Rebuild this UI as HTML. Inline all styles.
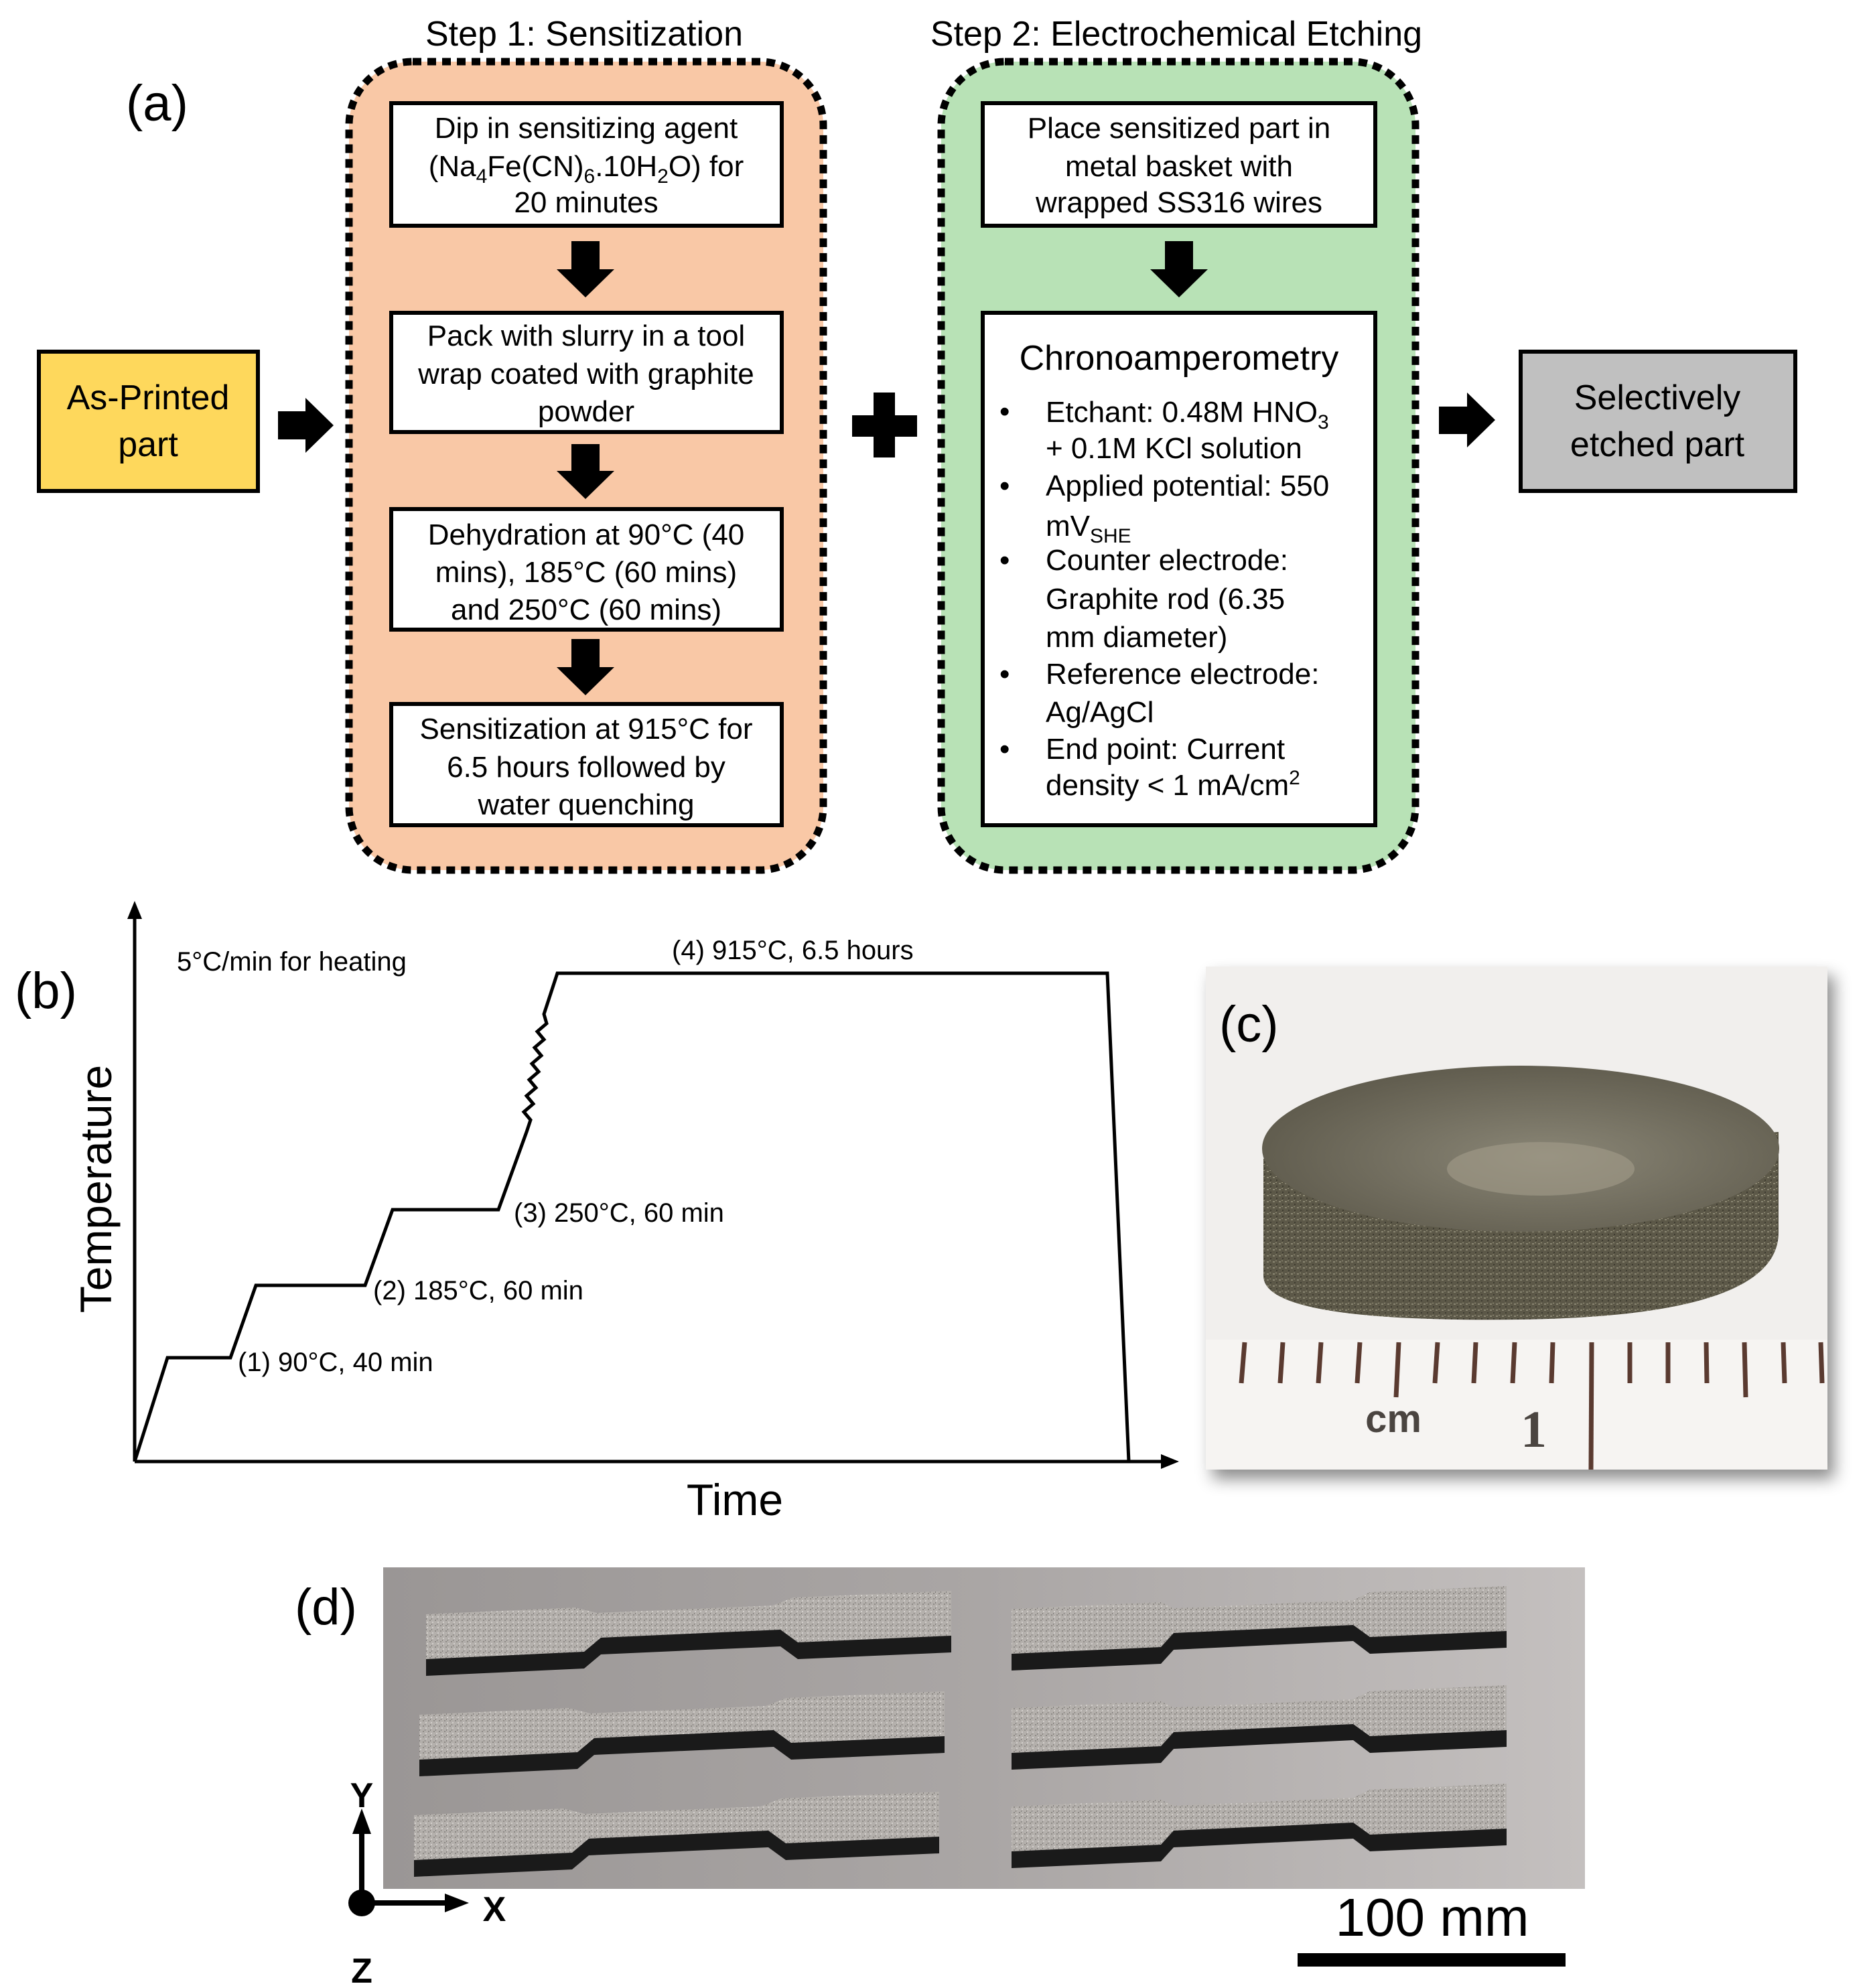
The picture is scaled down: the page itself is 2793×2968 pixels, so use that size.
<!DOCTYPE html>
<html><head><meta charset="utf-8"><style>
html,body{margin:0;padding:0;background:#fff;}
svg{display:block;}
text{font-family:"Liberation Sans",sans-serif;fill:#000;}
</style></head><body>
<svg width="2793" height="2968" viewBox="0 0 2793 2968" xmlns="http://www.w3.org/2000/svg">
<defs>
<filter id="sh" x="-10%" y="-10%" width="130%" height="130%"><feDropShadow dx="10" dy="14" stdDeviation="12" flood-color="#000" flood-opacity="0.45"/></filter>
<pattern id="spk" width="8" height="8" patternUnits="userSpaceOnUse"><rect width="8" height="8" fill="#b4b0ac"/><rect x="1" y="2" width="2" height="2" fill="#8e8a86"/><rect x="5" y="5" width="2" height="2" fill="#d2cecb"/><rect x="4" y="0" width="1" height="2" fill="#7c7875"/></pattern>
<pattern id="spk2" width="9" height="9" patternUnits="userSpaceOnUse"><rect width="9" height="9" fill="#5c5848"/><rect x="1" y="2" width="3" height="2" fill="#8a8672"/><rect x="6" y="6" width="2" height="2" fill="#3e3b30"/><rect x="5" y="1" width="2" height="1" fill="#9c977f"/></pattern>
<linearGradient id="dbg" x1="0" y1="0" x2="1" y2="0"><stop offset="0" stop-color="#9a9695"/><stop offset="0.5" stop-color="#aaa6a5"/><stop offset="1" stop-color="#c4c0bf"/></linearGradient>
<radialGradient id="disc" cx="0.55" cy="0.55" r="0.6"><stop offset="0" stop-color="#8a8676"/><stop offset="1" stop-color="#5e5a4c"/></radialGradient>
</defs>

<text x="188" y="180" font-size="76">(a)</text>
<text x="872" y="68" font-size="52" text-anchor="middle">Step 1: Sensitization</text>
<text x="1756" y="68" font-size="52" text-anchor="middle">Step 2: Electrochemical Etching</text>

<rect x="521" y="92" width="708" height="1207" rx="95" fill="#f9c8a6" stroke="#000" stroke-width="11" stroke-dasharray="13 9"/>
<rect x="1405" y="92" width="708" height="1207" rx="95" fill="#b8e2b6" stroke="#000" stroke-width="11" stroke-dasharray="13 9"/>

<g fill="#fff" stroke="#000" stroke-width="6">
<rect x="584" y="154" width="583" height="183"/>
<rect x="584" y="467" width="583" height="178"/>
<rect x="584" y="760" width="583" height="180"/>
<rect x="584" y="1051" width="583" height="181"/>
<rect x="1467" y="154" width="586" height="183"/>
<rect x="1467" y="467" width="586" height="765"/>
</g>
<g font-size="44" text-anchor="middle">
<text x="875" y="206">Dip in sensitizing agent</text>
<text x="875" y="263">(Na<tspan font-size="30" dy="10">4</tspan><tspan dy="-10">Fe(CN)</tspan><tspan font-size="30" dy="10">6</tspan><tspan dy="-10">.10H</tspan><tspan font-size="30" dy="10">2</tspan><tspan dy="-10">O) for</tspan></text>
<text x="875" y="317">20 minutes</text>
<text x="875" y="516">Pack with slurry in a tool</text>
<text x="875" y="573">wrap coated with graphite</text>
<text x="875" y="629">powder</text>
<text x="875" y="813">Dehydration at 90°C (40</text>
<text x="875" y="869">mins), 185°C (60 mins)</text>
<text x="875" y="925">and 250°C (60 mins)</text>
<text x="875" y="1103">Sensitization at 915°C for</text>
<text x="875" y="1160">6.5 hours followed by</text>
<text x="875" y="1216">water quenching</text>
<text x="1760" y="206">Place sensitized part in</text>
<text x="1760" y="263">metal basket with</text>
<text x="1760" y="317">wrapped SS316 wires</text>
</g>
<text x="1760" y="552" font-size="52" text-anchor="middle">Chronoamperometry</text>
<g font-size="44">
<text x="1492" y="629">•</text>
<text x="1561" y="630">Etchant: 0.48M HNO<tspan font-size="30" dy="10">3</tspan></text>
<text x="1561" y="684">+ 0.1M KCl solution</text>
<text x="1492" y="740">•</text>
<text x="1561" y="740">Applied potential: 550</text>
<text x="1561" y="800">mV<tspan font-size="30" dy="10">SHE</tspan></text>
<text x="1492" y="851">•</text>
<text x="1561" y="851">Counter electrode:</text>
<text x="1561" y="909">Graphite rod (6.35</text>
<text x="1561" y="966">mm diameter)</text>
<text x="1492" y="1021">•</text>
<text x="1561" y="1021">Reference electrode:</text>
<text x="1561" y="1078">Ag/AgCl</text>
<text x="1492" y="1133">•</text>
<text x="1561" y="1133">End point: Current</text>
<text x="1561" y="1187">density &lt; 1 mA/cm<tspan font-size="30" dy="-16">2</tspan></text>
</g>

<g fill="#000">
<polygon points="853,360 895,360 895,402 917,402 874,444 831,402 853,402"/>
<polygon points="853,663 895,663 895,703 917,703 874,745 831,703 853,703"/>
<polygon points="853,954 895,954 895,996 917,996 874,1038 831,996 853,996"/>
<polygon points="1739,360 1781,360 1781,402 1803,402 1760,444 1717,402 1739,402"/>
<polygon points="415,614 456,614 456,594 498,635 456,676 456,656 415,656"/>
<polygon points="2148,607 2190,607 2190,586 2232,627 2190,668 2190,648 2148,648"/>
<rect x="1272" y="620" width="97" height="32"/>
<rect x="1304" y="586" width="32" height="97"/>
</g>

<rect x="58" y="525" width="327" height="208" fill="#fed85c" stroke="#000" stroke-width="6"/>
<text x="221" y="611" font-size="52" text-anchor="middle">As-Printed</text>
<text x="221" y="681" font-size="52" text-anchor="middle">part</text>
<rect x="2270" y="525" width="410" height="208" fill="#c0c0c0" stroke="#000" stroke-width="6"/>
<text x="2474" y="611" font-size="52" text-anchor="middle">Selectively</text>
<text x="2474" y="681" font-size="52" text-anchor="middle">etched part</text>

<text x="22" y="1505" font-size="76">(b)</text>
<g stroke="#000" stroke-width="5" fill="none">
<line x1="201" y1="2182" x2="201" y2="1360"/>
<line x1="201" y1="2182" x2="1745" y2="2182"/>
<polyline points="201,2182 250,2027 344,2027 382,1919 545,1919 586,1806 744,1806 786,1690 792,1672 782,1660 796,1648 786,1636 800,1624 790,1612 804,1600 794,1588 808,1576 798,1564 812,1552 802,1540 816,1528 812,1514 832,1453 1653,1453 1685,2182"/>
</g>
<polygon points="201,1345 190,1372 212,1372" fill="#000"/>
<polygon points="1760,2182 1733,2171 1733,2193" fill="#000"/>
<g font-size="40">
<text x="264" y="1449">5°C/min for heating</text>
<text x="1003" y="1432">(4) 915°C, 6.5 hours</text>
<text x="767" y="1824">(3) 250°C, 60 min</text>
<text x="557" y="1940">(2) 185°C, 60 min</text>
<text x="355" y="2047">(1) 90°C, 40 min</text>
</g>
<text x="1097" y="2262" font-size="66" text-anchor="middle">Time</text>
<text transform="translate(166,1775) rotate(-90)" font-size="66" text-anchor="middle">Temperature</text>

<g filter="url(#sh)"><rect x="1800" y="1443" width="928" height="751" fill="#f1efed"/></g>
<rect x="1800" y="1443" width="928" height="751" fill="#f1efed"/>
<path d="M1886,1730 L1886,1905 Q1886,1975 2270,1970 Q2655,1965 2655,1840 L2655,1690 Z" fill="url(#spk2)"/>
<ellipse cx="2270" cy="1715" rx="386" ry="124" fill="url(#disc)"/>
<ellipse cx="2300" cy="1745" rx="140" ry="40" fill="#a39d8a" opacity="0.6"/>
<rect x="1800" y="2000" width="928" height="194" fill="#f6f4f2"/>
<g stroke="#5a3a30" stroke-width="7">
<line x1="1858" y1="2004" x2="1853" y2="2065"/><line x1="1915" y1="2004" x2="1911" y2="2065"/>
<line x1="1972" y1="2004" x2="1968" y2="2065"/><line x1="2030" y1="2004" x2="2026" y2="2065"/>
<line x1="2088" y1="2004" x2="2084" y2="2086"/><line x1="2146" y1="2004" x2="2142" y2="2065"/>
<line x1="2203" y1="2004" x2="2200" y2="2065"/><line x1="2261" y1="2004" x2="2258" y2="2065"/>
<line x1="2318" y1="2004" x2="2316" y2="2065"/><line x1="2376" y1="2004" x2="2375" y2="2194"/>
<line x1="2433" y1="2004" x2="2433" y2="2065"/><line x1="2490" y1="2004" x2="2490" y2="2065"/>
<line x1="2547" y1="2004" x2="2548" y2="2065"/><line x1="2604" y1="2004" x2="2606" y2="2086"/>
<line x1="2662" y1="2004" x2="2664" y2="2065"/><line x1="2718" y1="2004" x2="2720" y2="2065"/>
</g>
<text x="2080" y="2138" font-size="58" font-weight="bold" text-anchor="middle" style="fill:#4a4440">cm</text>
<text x="2270" y="2160" font-size="78" font-weight="bold" style="fill:#4a4440;font-family:'Liberation Serif',serif">1</text>
<text x="1820" y="1555" font-size="76">(c)</text>

<text x="440" y="2425" font-size="76">(d)</text>
<rect x="572" y="2340" width="1794" height="480" fill="url(#dbg)"/>
<g id="barL">
<polygon points="636,2410 859,2400 891,2408 1153,2397 1184,2385 1420,2375 1420,2442 1191,2452 1165,2433 897,2445 872,2466 636,2477" fill="url(#spk)"/>
<polygon points="636,2477 872,2466 897,2445 1165,2433 1191,2452 1420,2442 1420,2467 1191,2477 1165,2458 897,2470 872,2491 636,2502" fill="#1a1a1a"/>
</g>
<use href="#barL" transform="translate(-10,150)"/>
<use href="#barL" transform="translate(-18,300)"/>
<g id="barR">
<polygon points="1510,2402 1733,2392 1752,2401 2020,2389 2045,2377 2249,2368 2249,2435 2045,2444 2020,2426 1752,2438 1733,2459 1510,2469" fill="url(#spk)"/>
<polygon points="1510,2469 1733,2459 1752,2438 2020,2426 2045,2444 2249,2435 2249,2460 2045,2469 2020,2450 1752,2463 1733,2484 1510,2494" fill="#1a1a1a"/>
</g>
<use href="#barR" transform="translate(0,148)"/>
<use href="#barR" transform="translate(0,295)"/>

<g stroke="#000" stroke-width="8">
<line x1="540" y1="2841" x2="540" y2="2735"/>
<line x1="540" y1="2841" x2="670" y2="2841"/>
</g>
<polygon points="540,2700 526,2738 554,2738" fill="#000"/>
<polygon points="700,2841 664,2827 664,2855" fill="#000"/>
<circle cx="540" cy="2841" r="20" fill="#000"/>
<text x="540" y="2698" font-size="52" font-weight="bold" text-anchor="middle">Y</text>
<text x="738" y="2868" font-size="52" font-weight="bold" text-anchor="middle">X</text>
<text x="540" y="2960" font-size="52" font-weight="bold" text-anchor="middle">Z</text>
<text x="2138" y="2890" font-size="80" text-anchor="middle">100 mm</text>
<rect x="1937" y="2916" width="400" height="20" fill="#000"/>
</svg>
</body></html>
